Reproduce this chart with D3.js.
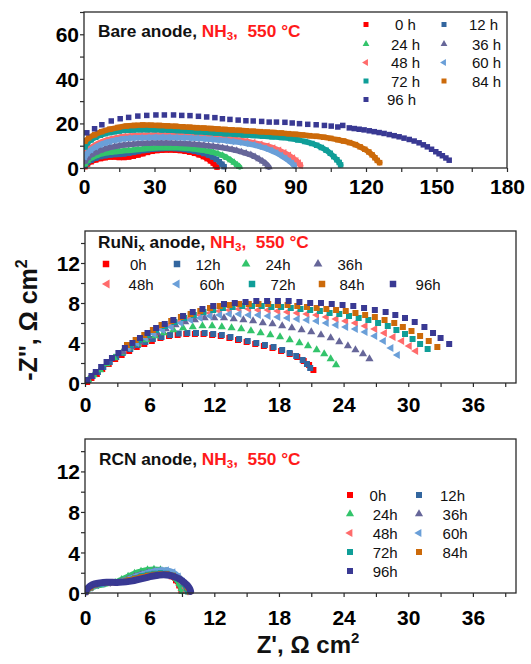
<!DOCTYPE html>
<html><head><meta charset="utf-8">
<script src="https://cdn.jsdelivr.net/npm/d3@7"></script>
<style>body{margin:0;background:#fff}svg{display:block}text{font-family:"Liberation Sans",Arial,sans-serif}</style>
</head><body><svg id="c" width="531" height="664"></svg>
<script>
// ---------- data ----------
const hoursSpaced = ["0 h","12 h","24 h","36 h","48 h","60 h","72 h","84 h","96 h"];
const hoursTight = ["0h","12h","24h","36h","48h","60h","72h","84h","96h"];
const seriesColors = ["#ff0000","#33669f","#33c46b","#666699","#ff6b6b","#6a9fd8","#0f9e98","#cc6a0a","#393993"];
const seriesShapes = ["square","square","up","up","left","left","square","square","square"];

const topXTicks = [0,30,60,90,120,150,180];
const topYTicks = [0,20,40,60];
const lowXTicks = [0,6,12,18,24,30,36];
const lowYTicks = [0,4,8,12];

// Bare anode (top)
const bare0h = [[0.4,0.6],[1.5,1.8],[3,2.8],[5,3.6],[7,4.2],[9,4.6],[11,4.9],[13,4.9],[15,4.7],[17,4.7],[19,4.9],[21,5.3],[23,5.8],[25,6.4],[27,7.0],[29,7.5],[31,7.8],[33,8.0],[35,8.1],[37,8.1],[39,8.0],[41,7.8],[43,7.5],[45,7.1],[47,6.6],[49,5.9],[50.8,5.1],[52.4,4.2],[53.8,3.2],[55,2.2],[55.9,1.2],[56.6,0.4]];
const bare12h = [[0.4,1.2],[1.5,2.4],[3,3.5],[5,4.4],[7,5.1],[9,5.5],[11,5.8],[13,6.0],[15,6.1],[17,6.3],[19,6.6],[21,7.0],[23,7.4],[25,7.8],[27,8.1],[29,8.4],[31,8.6],[33,8.7],[35,8.8],[37,8.8],[39,8.7],[41,8.6],[43,8.3],[45,8.0],[47,7.6],[49,7.1],[51,6.5],[53,5.8],[54.8,4.9],[56.3,3.9],[57.6,2.8],[58.7,1.7],[59.6,0.6]];
const bare24h = [[0.4,1.8],[1.5,3.2],[3,4.4],[5,5.4],[7,6.2],[9,6.7],[11,7.0],[13,7.3],[15,7.5],[17,7.7],[19,7.9],[21,8.1],[23,8.3],[25,8.5],[27,8.7],[29,8.9],[31,9.0],[33,9.1],[35,9.1],[37,9.1],[39,9.1],[41,9.0],[43,8.9],[45,8.7],[47,8.5],[49,8.2],[51,7.9],[53,7.5],[55,7.0],[57,6.4],[59,5.6],[60.8,4.6],[62.4,3.5],[63.9,2.4],[65.2,1.3],[66.2,0.5]];
const bare36h = [[0.4,3],[1.5,4.6],[3,5.9],[5,7.0],[7,7.9],[9,8.6],[11,9.2],[13,9.6],[15,10.0],[17,10.3],[19,10.5],[21,10.7],[23,10.9],[25,11.0],[27,11.1],[29,11.2],[31,11.2],[33,11.2],[35,11.2],[37,11.2],[39,11.1],[41,11.0],[43,10.9],[45,10.8],[47,10.6],[49,10.4],[51,10.2],[53,10.0],[55,9.7],[57,9.4],[59,9.1],[61,8.7],[63,8.3],[65,7.8],[67,7.2],[69,6.6],[71,5.9],[72.8,5.0],[74.5,4.0],[76,3.0],[77.3,2.0],[78.2,1.0],[78.7,0.4]];
const bare48h = [[0.4,6],[1.5,7.8],[3,9.2],[5,10.5],[7,11.5],[9,12.3],[11,12.9],[13,13.4],[15,13.8],[17,14.1],[19,14.3],[21,14.5],[24,14.6],[27,14.7],[30,14.8],[33,14.8],[36,14.8],[39,14.7],[42,14.6],[45,14.5],[48,14.3],[51,14.1],[54,13.9],[57,13.6],[60,13.3],[63,12.9],[66,12.5],[69,12.0],[72,11.4],[75,10.7],[78,9.9],[80.5,9.0],[83,8.0],[85.2,6.9],[87.2,5.7],[88.9,4.5],[90.3,3.3],[91.4,2.2],[92.2,1.1]];
const bare60h = [[0.4,5],[1.5,6.8],[3,8.2],[5,9.5],[7,10.5],[9,11.3],[11,11.9],[13,12.4],[15,12.8],[17,13.1],[19,13.3],[21,13.5],[24,13.6],[27,13.7],[30,13.8],[33,13.8],[36,13.8],[39,13.7],[42,13.6],[45,13.5],[48,13.3],[51,13.1],[54,12.9],[57,12.6],[60,12.3],[63,11.9],[66,11.5],[69,11.0],[72,10.4],[74.5,9.7],[77,8.9],[79.5,7.9],[81.8,6.8],[83.8,5.6],[85.6,4.4],[87.2,3.2],[88.5,2.1],[89.5,1.0]];
const bare72h = [[0.4,9.5],[1.5,11.3],[3,12.6],[5,13.8],[7,14.7],[9,15.4],[11,15.9],[13,16.3],[15,16.6],[18,16.9],[21,17.1],[24,17.2],[27,17.2],[30,17.2],[33,17.1],[36,17.0],[40,16.8],[44,16.6],[48,16.3],[52,16.0],[56,15.7],[60,15.4],[64,15.1],[68,14.8],[72,14.6],[76,14.3],[80,14.0],[84,13.7],[88,13.2],[91,12.6],[94,11.9],[97,11.0],[99,10.2],[101,9.2],[103,8.0],[104.8,6.6],[106.3,5.1],[107.6,3.7],[108.6,2.5],[109.2,1.4]];
const bare84h = [[0.4,12],[2,13.5],[4.5,14.9],[7.5,16.3],[11,17.4],[14.5,18.2],[18,18.8],[21.5,19.1],[25,19.3],[28.5,19.2],[32,19.1],[35.5,18.9],[39,18.7],[42,18.5],[45,18.3],[48,18.1],[51,17.9],[54,17.7],[57,17.5],[60,17.3],[63,17.1],[66,16.9],[69,16.7],[72,16.5],[75,16.3],[78,16.1],[81,15.9],[84,15.7],[87,15.4],[90,15.1],[93,14.8],[96,14.5],[99,14.2],[102,13.8],[105,13.3],[108,12.7],[110.5,12.1],[113,11.4],[115.5,10.5],[117.5,9.5],[119.5,8.4],[121.2,7.2],[122.6,5.9],[123.8,4.6],[124.8,3.4],[125.8,2.4]];
const bare96h = [[1.2,15.8],[4.5,17.6],[7.6,19.4],[11.6,21.1],[15.4,22.1],[19,22.7],[22.9,23.3],[26.7,23.6],[30.6,23.8],[34.2,23.8],[38.1,23.8],[41.6,23.6],[45.1,23.5],[48.7,23.2],[52.2,22.9],[55.7,22.6],[58.9,22.1],[62.1,21.8],[65.6,21.5],[68.9,21.2],[72,21.1],[75.6,20.9],[78.8,20.6],[81.9,20.6],[85.5,20.5],[88.6,20.2],[91.7,19.9],[95.2,19.6],[98.8,19.4],[102.3,19.1],[105.2,18.8],[108,18.4],[110.1,19.1],[112.9,18],[115,17.7],[117.1,17.4],[119.2,17.1],[121.4,16.7],[123.5,16.3],[125.6,15.9],[127.7,15.5],[129.9,15],[132,14.5],[134.1,14],[136.2,13.4],[138.4,12.8],[140.5,12.1],[142.6,11.3],[144.4,10.4],[146.1,9.5],[147.9,8.4],[149.7,7.3],[151.1,6.4],[152.5,5.5],[154,4.5],[155.4,3.5]];

// RuNix anode (middle)
const runi0h = [[0.2,0.1],[0.6,0.5],[1.1,0.9],[1.6,1.4],[2.2,1.9],[2.8,2.4],[3.4,2.8],[4.1,3.2],[4.8,3.6],[5.5,3.9],[6.2,4.2],[7.0,4.5],[7.8,4.7],[8.6,4.8],[9.4,4.9],[10.2,4.9],[11.0,4.9],[11.8,4.8],[12.6,4.7],[13.4,4.5],[14.2,4.3],[15.0,4.1],[15.8,3.9],[16.6,3.7],[17.4,3.5],[18.2,3.2],[19.0,2.9],[19.7,2.6],[20.3,2.2],[20.8,1.8],[21.2,1.3]];
const runi12h = [[0.3,0.3],[0.7,0.7],[1.2,1.1],[1.7,1.6],[2.3,2.1],[2.9,2.6],[3.5,3.0],[4.2,3.4],[4.9,3.8],[5.6,4.1],[6.3,4.4],[7.1,4.6],[7.9,4.8],[8.7,4.95],[9.5,5.0],[10.3,5.0],[11.1,5.0],[11.9,4.9],[12.7,4.8],[13.5,4.6],[14.3,4.4],[15.1,4.2],[15.9,4.0],[16.7,3.8],[17.5,3.6],[18.3,3.3],[19.0,3.0],[19.6,2.7],[20.2,2.3],[20.6,1.9],[20.9,1.5]];
const runi24h = [[0.3,0.3],[0.8,0.8],[1.4,1.3],[2.0,1.9],[2.7,2.5],[3.4,3.0],[4.1,3.5],[4.9,3.9],[5.7,4.3],[6.5,4.7],[7.3,5.0],[8.2,5.3],[9.1,5.5],[10.0,5.6],[10.9,5.7],[11.8,5.7],[12.7,5.6],[13.6,5.5],[14.5,5.4],[15.4,5.2],[16.3,5.0],[17.2,4.8],[18.1,4.6],[19.0,4.3],[19.9,4.0],[20.7,3.7],[21.5,3.3],[22.2,2.9],[22.8,2.4],[23.3,1.8]];
const runi36h = [[3.5,3.1],[4.3,3.6],[5.1,4.1],[5.9,4.6],[6.7,5.0],[7.5,5.4],[8.4,5.8],[9.3,6.1],[10.2,6.3],[11.1,6.5],[12.0,6.5],[12.9,6.5],[13.8,6.4],[14.7,6.3],[15.6,6.2],[16.5,6.0],[17.4,5.9],[18.3,5.7],[19.2,5.5],[20.1,5.3],[21.0,5.1],[21.9,4.8],[22.8,4.5],[23.6,4.1],[24.4,3.7],[25.1,3.3],[25.8,2.9],[26.4,2.4]];
const runi48h = [[4.0,3.6],[4.8,4.1],[5.6,4.6],[6.4,5.0],[7.2,5.4],[8.0,5.8],[8.9,6.2],[9.8,6.5],[10.7,6.8],[11.6,7.0],[12.5,7.2],[13.4,7.3],[14.3,7.4],[15.2,7.4],[16.1,7.3],[17.0,7.3],[17.9,7.2],[18.8,7.1],[19.7,7.0],[20.6,6.9],[21.5,6.8],[22.4,6.6],[23.3,6.4],[24.2,6.2],[25.1,6.0],[26.0,5.7],[26.9,5.4],[27.8,5.0],[28.6,4.6],[29.4,4.2],[30.1,3.7],[30.7,3.2]];
const runi60h = [[4.0,3.5],[4.8,4.0],[5.6,4.5],[6.4,4.9],[7.2,5.3],[8.0,5.6],[8.9,6.0],[9.8,6.3],[10.7,6.5],[11.6,6.7],[12.5,6.8],[13.4,6.9],[14.3,6.9],[15.2,6.8],[16.1,6.8],[17.0,6.7],[17.9,6.6],[18.8,6.5],[19.7,6.4],[20.6,6.3],[21.5,6.2],[22.4,6.0],[23.3,5.8],[24.2,5.6],[25.1,5.4],[26.0,5.1],[26.9,4.7],[27.7,4.2],[28.4,3.5],[29.0,2.8]];
const runi72h = [[4.2,3.8],[5.0,4.3],[5.8,4.8],[6.6,5.3],[7.4,5.7],[8.3,6.1],[9.2,6.5],[10.1,6.8],[11.0,7.1],[11.9,7.3],[12.8,7.5],[13.7,7.6],[14.6,7.7],[15.5,7.7],[16.4,7.7],[17.3,7.6],[18.2,7.6],[19.1,7.5],[20.0,7.4],[20.9,7.3],[21.8,7.2],[22.7,7.0],[23.6,6.9],[24.5,6.7],[25.4,6.5],[26.3,6.3],[27.2,6.0],[28.1,5.7],[28.9,5.3],[29.7,4.9],[30.4,4.4],[31.1,3.9],[31.8,3.4]];
const runi84h = [[3.9,3.8],[4.7,4.3],[5.5,4.8],[6.3,5.3],[7.1,5.8],[8.0,6.2],[8.9,6.6],[9.8,6.9],[10.7,7.2],[11.6,7.5],[12.5,7.7],[13.4,7.8],[14.3,7.9],[15.2,7.9],[16.1,7.9],[17.0,7.9],[17.9,7.8],[18.8,7.8],[19.7,7.7],[20.6,7.6],[21.5,7.5],[22.4,7.4],[23.3,7.3],[24.2,7.2],[25.1,7.0],[26.0,6.8],[26.9,6.6],[27.8,6.3],[28.7,6.0],[29.5,5.6],[30.3,5.2],[31.1,4.7],[31.9,4.2],[32.7,3.6]];
const runi96h = [[0.2,0.3],[0.6,0.7],[1.0,1.1],[1.5,1.6],[2.0,2.1],[2.5,2.5],[3.1,3.0],[3.7,3.5],[4.4,4.0],[5.1,4.5],[5.8,5.0],[6.6,5.5],[7.4,5.9],[8.2,6.3],[9.1,6.7],[10.0,7.1],[10.9,7.4],[11.9,7.7],[12.9,7.9],[13.9,8.0],[14.9,8.1],[15.9,8.2],[16.9,8.2],[17.9,8.2],[18.9,8.2],[19.9,8.1],[20.9,8.0],[21.9,8.0],[22.9,7.9],[23.9,7.8],[24.9,7.7],[25.9,7.5],[26.9,7.3],[27.9,7.1],[28.8,6.8],[29.7,6.5],[30.6,6.1],[31.5,5.6],[32.3,5.0],[33.0,4.5],[33.8,3.9]];

// RCN anode (bottom)
const rcn0h = [[0.1,0.1],[0.5,0.5],[1.0,0.75],[1.6,0.9],[2.2,0.95],[2.8,1.0],[3.4,1.1],[4.0,1.3],[4.6,1.5],[5.2,1.7],[5.8,1.9],[6.4,2.0],[7.0,2.0],[7.5,1.9],[8.0,1.6],[8.4,1.2],[8.7,0.7],[8.9,0.2]];
const rcn12h = [[0.1,0.1],[0.5,0.45],[1.0,0.7],[1.6,0.85],[2.2,0.95],[2.8,1.0],[3.4,1.15],[4.0,1.35],[4.6,1.55],[5.2,1.75],[5.8,1.9],[6.4,2.0],[7.0,2.05],[7.6,1.95],[8.1,1.7],[8.5,1.3],[8.8,0.8],[9.0,0.3]];
const rcn24h = [[0.1,0.1],[0.5,0.4],[1.0,0.6],[1.6,0.75],[2.2,0.9],[2.8,1.1],[3.4,1.4],[4.0,1.7],[4.6,2.0],[5.2,2.2],[5.8,2.35],[6.4,2.4],[7.0,2.35],[7.5,2.2],[8.0,1.9],[8.4,1.4],[8.7,0.9],[8.9,0.4],[9.0,0.1]];
const rcn36h = [[0.1,0.1],[0.5,0.45],[1.0,0.7],[1.6,0.85],[2.2,0.95],[2.8,1.05],[3.4,1.2],[4.0,1.45],[4.6,1.7],[5.2,1.9],[5.8,2.05],[6.4,2.2],[7.0,2.25],[7.6,2.2],[8.1,2.0],[8.6,1.6],[9.0,1.1],[9.3,0.6],[9.4,0.2]];
const rcn48h = [[0.1,0.1],[0.5,0.5],[1.0,0.75],[1.6,0.9],[2.2,0.95],[2.8,1.0],[3.4,1.15],[4.0,1.35],[4.6,1.6],[5.2,1.8],[5.8,1.95],[6.4,2.1],[7.0,2.15],[7.6,2.1],[8.1,1.9],[8.6,1.5],[9.0,1.0],[9.3,0.5],[9.4,0.1]];
const rcn60h = [[0.1,0.1],[0.5,0.45],[1.0,0.7],[1.6,0.85],[2.2,0.95],[2.8,1.05],[3.4,1.2],[4.0,1.4],[4.6,1.65],[5.2,1.85],[5.8,2.05],[6.4,2.2],[7.0,2.3],[7.6,2.3],[8.2,2.1],[8.7,1.7],[9.1,1.2],[9.4,0.7],[9.6,0.2]];
const rcn72h = [[0.1,0.1],[0.5,0.5],[1.0,0.75],[1.6,0.9],[2.2,1.0],[2.8,1.05],[3.4,1.15],[4.0,1.3],[4.6,1.5],[5.2,1.7],[5.8,1.85],[6.4,1.95],[7.0,2.0],[7.6,1.95],[8.2,1.75],[8.7,1.4],[9.1,0.9],[9.4,0.4],[9.5,0.1]];
const rcn84h = [[0.1,0.1],[0.5,0.5],[1.0,0.8],[1.6,0.95],[2.2,1.0],[2.8,1.05],[3.4,1.15],[4.0,1.3],[4.6,1.45],[5.2,1.6],[5.8,1.75],[6.4,1.85],[7.0,1.9],[7.6,1.9],[8.2,1.75],[8.7,1.45],[9.2,1.0],[9.5,0.5],[9.7,0.1]];
const rcn96h = [[0.05,0.1],[0.2,0.4],[0.5,0.7],[0.9,0.9],[1.4,1.0],[2.0,1.05],[2.6,1.05],[3.2,1.05],[3.8,1.1],[4.4,1.2],[5.0,1.35],[5.6,1.5],[6.2,1.65],[6.8,1.75],[7.3,1.8],[7.8,1.75],[8.3,1.6],[8.8,1.35],[9.2,1.05],[9.5,0.75],[9.7,0.45],[9.8,0.15]];

const bareSeries = [bare0h,bare12h,bare24h,bare36h,bare48h,bare60h,bare72h,bare84h,bare96h];
const runiSeries = [runi0h,runi12h,runi24h,runi36h,runi48h,runi60h,runi72h,runi84h,runi96h];
const rcnSeries = [rcn0h,rcn12h,rcn24h,rcn36h,rcn48h,rcn60h,rcn72h,rcn84h,rcn96h];

// ---------- drawing ----------
const svg = d3.select("#c");
const FRAME = "#2a2a2a";

function symPath(shape, s){
  if(shape==="square") return d3.symbol(d3.symbolSquare, s*s)();
  return d3.symbol(d3.symbolTriangle, s*s*0.8)();
}
function symRot(shape){ return shape==="left" ? " rotate(-90)" : ""; }

function panel(cfg){
  const x = d3.scaleLinear().domain(cfg.xd).range(cfg.xr);
  const y = d3.scaleLinear().domain(cfg.yd).range(cfg.yr);
  const g = svg.append("g");
  const clipId = "clip"+cfg.id;
  svg.append("clipPath").attr("id",clipId).append("rect")
    .attr("x",cfg.xr[0]).attr("y",cfg.yr[1]).attr("width",cfg.xr[1]-cfg.xr[0]).attr("height",cfg.yr[0]-cfg.yr[1]+4);
  const dg = g.append("g").attr("clip-path",`url(#${clipId})`);
  cfg.series.forEach((pts,i)=>{
    const col = seriesColors[i], sh = seriesShapes[i];
    if(cfg.band && cfg.band[i]){
      dg.append("path").datum(pts)
        .attr("d", d3.line().x(d=>x(d[0])).y(d=>y(d[1])).curve(d3.curveCatmullRom))
        .attr("fill","none").attr("stroke",col).attr("stroke-width",cfg.band[i])
        .attr("stroke-linecap","round").attr("stroke-linejoin","round");
    }
    dg.append("g").selectAll("path").data(pts).join("path")
      .attr("d", symPath(sh, cfg.ms))
      .attr("transform", d=>`translate(${x(d[0])},${y(d[1])})${symRot(sh)}`)
      .attr("fill", col);
  });
  g.append("rect").attr("x",cfg.xr[0]).attr("y",cfg.yr[1])
    .attr("width",cfg.xr[1]-cfg.xr[0]).attr("height",cfg.yr[0]-cfg.yr[1])
    .attr("fill","none").attr("stroke",FRAME).attr("stroke-width",1.3);
  const xa = d3.axisBottom(x).tickValues(d3.range(cfg.xd[0], cfg.xd[1]+0.001, cfg.xMinor))
    .tickSize(4).tickFormat(d=> cfg.xTicks.includes(d) ? d : "");
  const ga = g.append("g").attr("transform",`translate(0,${cfg.yr[0]})`).call(xa);
  ga.select(".domain").remove();
  ga.selectAll(".tick line").attr("stroke",FRAME).attr("stroke-width",1.2);
  ga.selectAll(".tick text").attr("y", cfg.xLabDy).attr("dy",0)
    .attr("font-size",cfg.fs).attr("font-weight","bold").attr("fill","#000")
    .attr("font-family","'Liberation Sans',Arial,sans-serif");
  const ya = d3.axisLeft(y).tickValues(d3.range(cfg.yd[0], cfg.yd[1]+0.001, cfg.yMinor))
    .tickSize(4).tickFormat(d=> cfg.yTicks.includes(d) ? d : "");
  const gy = g.append("g").attr("transform",`translate(${cfg.xr[0]},0)`).call(ya);
  gy.select(".domain").remove();
  gy.selectAll(".tick line").attr("stroke",FRAME).attr("stroke-width",1.2);
  gy.selectAll(".tick text").attr("x",-5).attr("dy","0.36em")
    .attr("font-size",cfg.fs).attr("font-weight","bold").attr("fill","#000")
    .attr("font-family","'Liberation Sans',Arial,sans-serif");
  const t = g.append("text").attr("x",cfg.title.x).attr("y",cfg.title.y)
    .attr("font-size",17.3).attr("font-weight","bold");
  t.append("tspan").attr("fill","#111").text(cfg.title.name);
  if(cfg.title.sub){
    t.append("tspan").attr("fill","#111").attr("font-size",11.5).attr("dy",3).text(cfg.title.sub);
    t.append("tspan").attr("fill","#111").attr("dy",-3).text(" anode, ");
  } else {
    t.append("tspan").attr("fill","#111").text(" anode, ");
  }
  t.append("tspan").attr("fill","#ff1a1a").text("NH");
  t.append("tspan").attr("fill","#ff1a1a").attr("font-size",11.5).attr("dy",3).text("3");
  t.append("tspan").attr("fill","#ff1a1a").attr("dy",-3).text(",\u00a0\u00a0550 °C");
  const lg = g.append("g");
  cfg.legend.forEach((it,i)=>{
    const sh = seriesShapes[i];
    lg.append("path").attr("d", symPath(sh, cfg.lms))
      .attr("transform",`translate(${it[0]},${it[1]})${symRot(sh)}`)
      .attr("fill", seriesColors[i]);
    lg.append("text").attr("x",it[2]).attr("y",it[1]+5.5)
      .attr("font-size",15).attr("fill","#111").text(cfg.labels[i]);
  });
  return {x,y};
}

panel({
  id:"t", xd:[0,180], xr:[84,507], yd:[0,70], yr:[168,12],
  xTicks:topXTicks, yTicks:topYTicks, xMinor:15, yMinor:10, fs:21, xLabDy:26,
  series:bareSeries, ms:5.5, band:[5,5,5.5,5.5,5.5,5.5,5.5,5.5,0],
  title:{x:98,y:37,name:"Bare"},
  labels:hoursSpaced, lms:5,
  legend:[[366,24.5,395],[444,24.5,469],[366,44,391],[444,44,472],[366,62.5,391],[444,62.5,472],[366,81,391],[444,81,472],[366,99.5,387]]
});

panel({
  id:"m", xd:[0,40], xr:[85,516], yd:[0,15.2], yr:[383,231],
  xTicks:lowXTicks, yTicks:lowYTicks, xMinor:3, yMinor:2, fs:21, xLabDy:29,
  series:runiSeries, ms:6,
  title:{x:98,y:248,name:"RuNi",sub:"x"},
  labels:hoursTight, lms:6.5,
  legend:[[106,264,130],[177,264,195.5],[246,264,265.5],[318,264,337.5],[107,284,128.6],[177,284,199.6],[252,284,270.6],[322,284,339.5],[393,284,415.6]]
});

panel({
  id:"b", xd:[0,40], xr:[85,516], yd:[0,15.2], yr:[593,439],
  xTicks:lowXTicks, yTicks:lowYTicks, xMinor:3, yMinor:2, fs:21, xLabDy:32,
  series:rcnSeries, ms:5, band:[4,4,4.5,4.5,4.5,4.5,4.5,4.5,7],
  title:{x:99,y:465,name:"RCN"},
  labels:hoursTight, lms:6,
  legend:[[350,495,369.6],[419,495,440],[350,514,372.7],[419,514,442.6],[350,533,372.7],[419,533,442.6],[350,552,372.7],[419,552,442.6],[350,571,372.7]]
});

const xt = svg.append("text").attr("x",308).attr("y",653).attr("text-anchor","middle")
  .attr("font-size",24).attr("font-weight","bold").attr("fill","#111");
xt.append("tspan").text("Z', Ω cm");
xt.append("tspan").attr("font-size",15).attr("dy",-10).text("2");

const yt = svg.append("text").attr("transform","translate(37,320) rotate(-90)").attr("text-anchor","middle")
  .attr("font-size",25).attr("font-weight","bold").attr("fill","#111");
yt.append("tspan").text("-Z'', Ω cm");
yt.append("tspan").attr("font-size",16).attr("dy",-10).text("2");
</script></body></html>
